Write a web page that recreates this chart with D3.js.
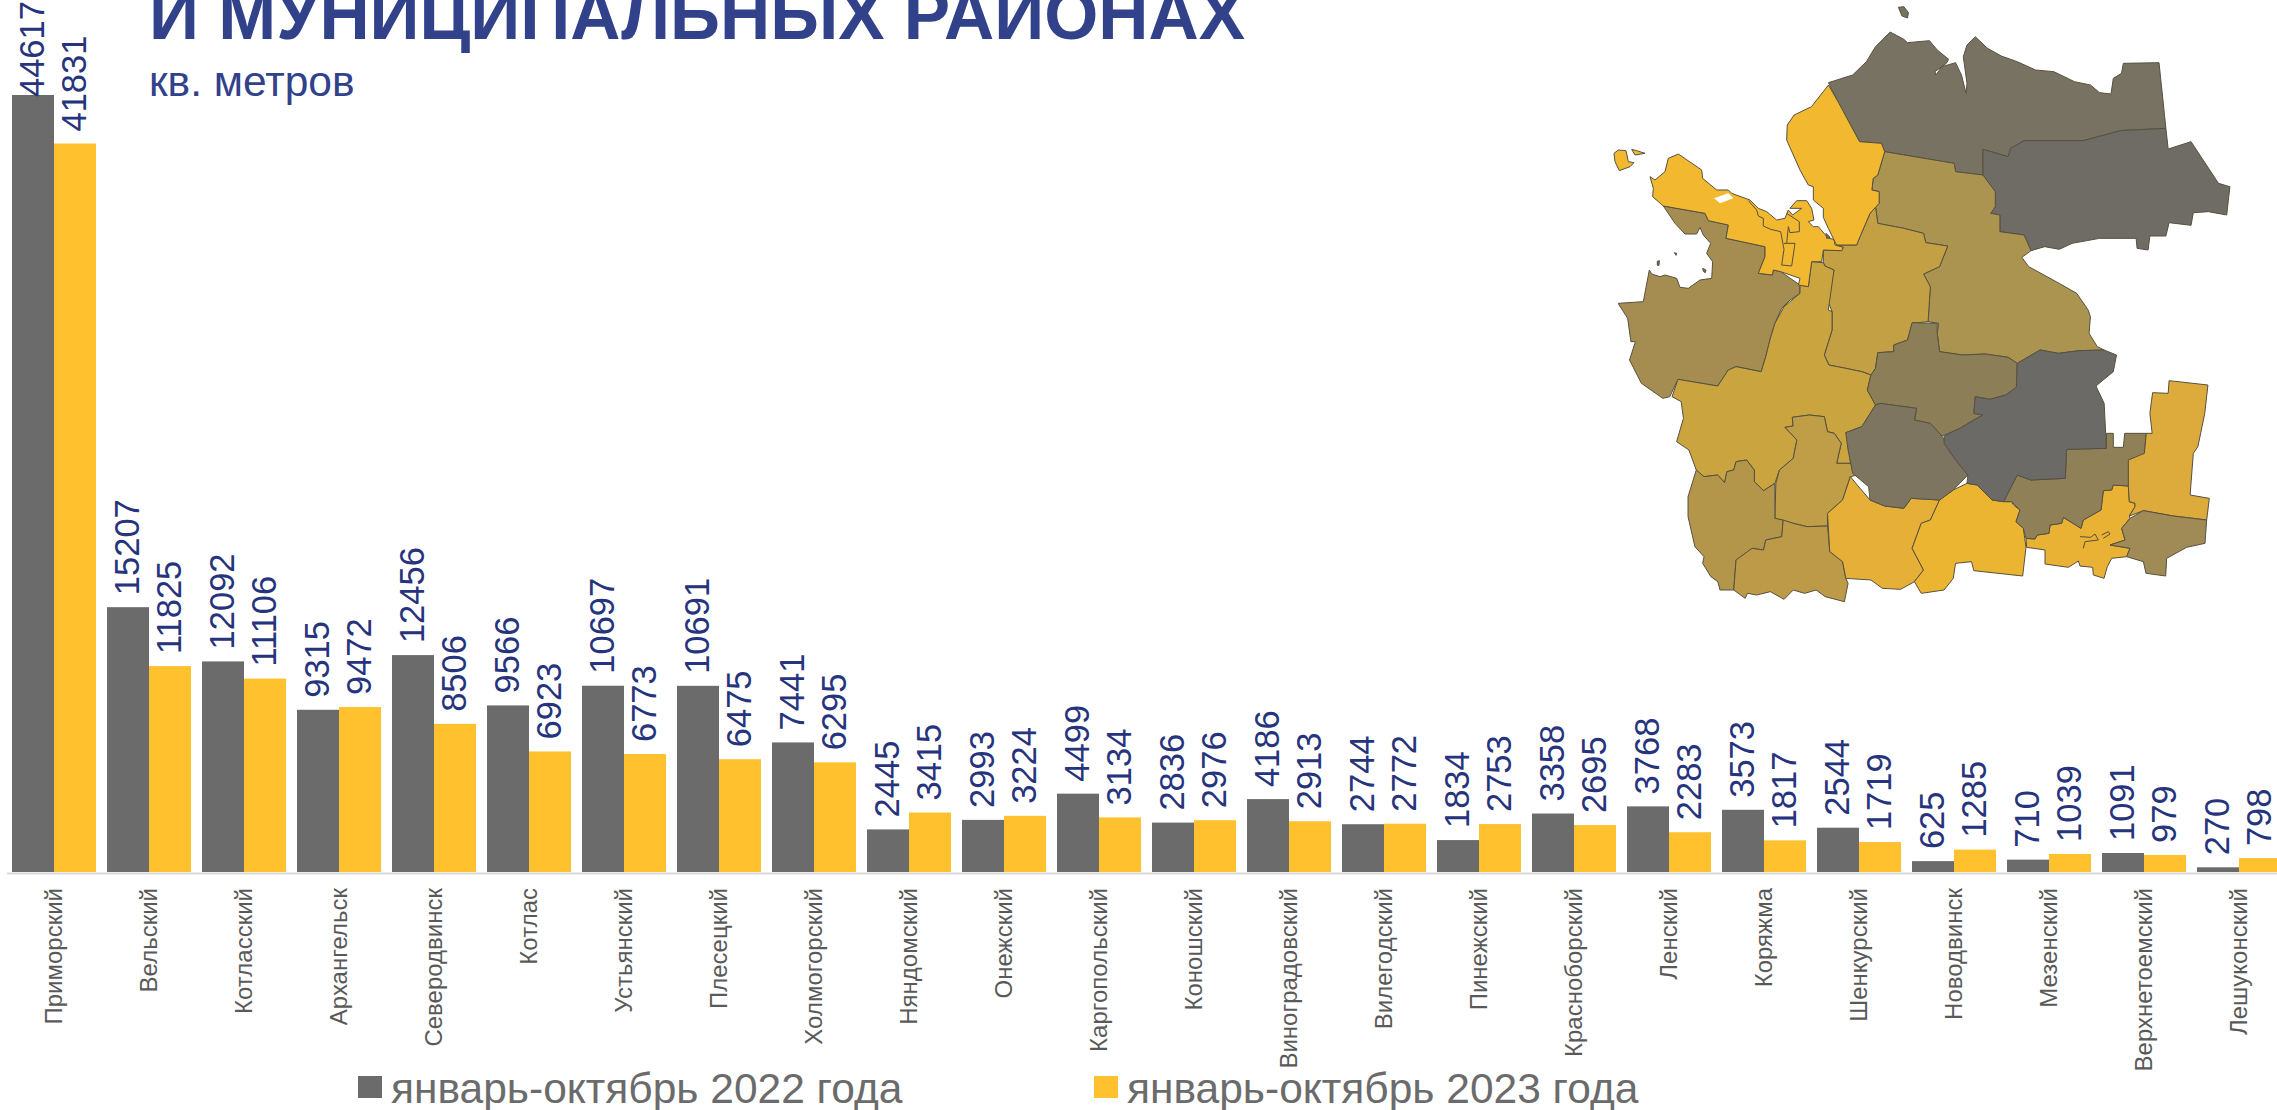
<!DOCTYPE html>
<html>
<head>
<meta charset="utf-8">
<script src="https://cdnjs.cloudflare.com/ajax/libs/d3/7.8.5/d3.min.js"></script>
<style>
  html, body { margin: 0; padding: 0; background: #fff; overflow: hidden; }
  text { font-family: "Liberation Sans", Arial, sans-serif; }
</style>
</head>
<body>
<div id="chart"></div>
<script>
// Chart values
const districts = ['Приморский', 'Вельский', 'Котласский', 'Архангельск', 'Северодвинск', 'Котлас', 'Устьянский', 'Плесецкий', 'Холмогорский', 'Няндомский', 'Онежский', 'Каргопольский', 'Коношский', 'Виноградовский', 'Вилегодский', 'Пинежский', 'Красноборский', 'Ленский', 'Коряжма', 'Шенкурский', 'Новодвинск', 'Мезенский', 'Верхнетоемский', 'Лешуконский']
const values2022 = [44617, 15207, 12092, 9315, 12456, 9566, 10697, 10691, 7441, 2445, 2993, 4499, 2836, 4186, 2744, 1834, 3358, 3768, 3573, 2544, 625, 710, 1091, 270]
const values2023 = [41831, 11825, 11106, 9472, 8506, 6923, 6773, 6475, 6295, 3415, 3224, 3134, 2976, 2913, 2772, 2753, 2695, 2283, 1817, 1719, 1285, 1039, 979, 798]
const seriesNames = ['январь-октябрь 2022 года', 'январь-октябрь 2023 года']
const seriesColors = ['#6b6b6b', '#ffc12d']

// Map outlines. Each helper turns one crop's
// numbers into the common map units used by mapX / mapY
const north = pts => pts
const south = pts => pts.map(([x, y]) => [x, y + 900])
const nw = pts => pts.map(([x, y]) => [(50 + x / 3) * 1568 / 717, (130 + y / 3) * 3])
const se = pts => pts.map(([x, y]) => [(440 + x / 3) * 1568 / 717, (460 + y / 3) * 3])

const mezen = north([[587,248],[640,225],[670,185],[690,140],[722,96],[752,118],[760,128],[808,122],[825,150],[850,178],[845,190],[820,215],[822,225],[835,200],[865,188],[878,225],[888,280],[890,250],[882,170],[890,135],[908,110],[935,145],[965,168],[1000,185],[1040,210],[1080,215],[1125,245],[1160,255],[1180,278],[1205,282],[1210,235],[1228,220],[1232,190],[1310,188],[1325,385],[1225,392],[1145,422],[1015,422],[985,455],[980,470],[925,448],[925,525],[865,515],[862,490],[710,455],[703,430],[655,425],[610,310]])
const leshukonsky = north([[925,448],[980,470],[985,445],[1015,422],[1145,422],[1225,392],[1325,385],[1330,447],[1380,425],[1440,550],[1465,560],[1458,645],[1418,635],[1385,638],[1380,676],[1332,668],[1325,708],[1290,708],[1286,750],[1262,745],[1260,715],[1180,715],[1120,730],[1092,748],[1060,740],[1030,752],[1015,705],[962,695],[962,645],[942,640],[952,620],[952,575],[925,530]])
const primorskyEast = north([[587,255],[610,310],[655,425],[703,430],[710,455],[695,525],[685,535],[682,570],[698,575],[698,610]]).concat(nw([[780,250],[750,320],[740,345],[680,345],[672,330],[655,295],[640,262],[640,235],[610,210],[610,170],[595,165],[570,120],[530,30]]), north([[497,375],[512,345],[550,320]]))
const primorskyWest = nw([[160,228],[128,200],[130,175],[120,140],[135,150],[165,125],[175,85],[205,72],[275,120],[278,145],[320,180],[355,180],[365,190],[420,210],[445,235],[470,245],[500,270],[525,265],[535,240],[548,255],[575,235],[540,235],[560,212],[590,212],[605,235],[612,270],[595,275],[610,290],[625,290],[655,325],[672,328],[675,345],[700,352],[695,362],[640,360],[635,395],[605,395],[595,470],[565,465],[570,445],[512,425],[490,420],[487,435],[445,430],[465,380],[465,350],[348,325],[355,285],[295,272],[285,250]])
const solovki = nw([[12,70],[25,60],[48,62],[55,95],[72,98],[60,110],[28,122],[15,95]])
const solovkiSmall = nw([[65,58],[80,62],[105,70],[75,75]])
const severodvinskLine = nw([[415,212],[440,240],[445,258],[460,265],[460,288],[482,298],[512,305],[522,358],[515,405],[545,408],[555,340],[522,340]])
const arkhangelskLine = nw([[530,250],[568,275],[568,305],[540,308],[535,290],[530,340]])
const arcticIsland = north([[740,22],[752,20],[762,38],[760,54],[748,48]])
const onega = nw([[160,228],[285,250],[295,272],[355,285],[348,325],[465,350],[465,380],[445,430],[487,435],[490,420],[512,425],[570,465],[570,490],[540,510],[515,535]]).concat(south([[470,70],[460,115],[450,170],[440,215],[385,200],[368,210],[345,258],[258,238],[240,290],[225,295],[178,250],[152,180],[165,125],[155,125],[148,55],[128,12]]), nw([[25,520],[100,515],[118,420],[125,432],[150,440],[165,435],[200,445],[210,472],[235,475],[270,450],[305,445],[308,395],[290,370],[302,340],[280,315],[270,292],[260,312],[225,312],[195,280]]))
const plesetsk = nw([[570,490],[570,465],[595,470],[605,395],[640,398],[645,408],[672,420],[655,540]]).concat(south([[595,35],[595,90],[578,165],[588,195],[625,205],[660,215],[680,225],[672,270],[690,315],[660,380],[625,398],[640,450],[635,490],[605,490],[615,430],[600,400],[585,395],[578,350],[545,345],[508,352],[510,378],[492,382],[518,420],[510,475],[480,510],[470,550],[445,572],[425,545],[425,510],[408,480],[385,485],[380,510],[365,515],[360,548],[345,525],[315,530],[298,510],[282,450],[255,425],[270,355],[265,305],[245,290],[258,238],[345,258],[368,210],[385,200],[440,215],[450,170],[460,115],[470,70],[490,20]]))
const kholmogorsky = nw([[640,360],[695,362],[700,352],[680,345],[740,345],[750,320],[780,250]]).concat(north([[690,620],[695,670],[752,685],[795,700],[800,728],[848,738],[830,800],[795,822],[810,860],[808,900]]), south([[805,65],[770,70],[760,120],[730,135],[730,155],[695,158],[690,205],[680,225],[660,215],[625,205],[588,195],[578,165],[595,90],[595,35],[585,0]]), nw([[672,420],[645,408],[640,398]]))
const pinega = north([[710,455],[862,490],[865,515],[925,525],[952,575],[952,620],[942,640],[962,645],[962,695],[1015,705],[1030,752],[1010,772],[1025,800],[1085,845],[1130,880],[1155,930]]).concat(south([[1160,50],[1157,100],[1175,140],[1190,150],[1135,152],[1090,160],[1050,150],[1000,190],[980,172],[930,162],[880,165],[830,155],[825,100],[828,70],[805,65]]), north([[808,900],[810,860],[795,822],[830,800],[848,738],[800,728],[795,700],[752,685],[695,670],[690,620],[698,610],[698,575],[682,570],[685,535],[695,525]]))
const vinogradovsky = south([[770,68],[825,70],[825,100],[830,155],[880,165],[930,162],[980,172],[1000,190],[998,262],[975,285],[940,298],[908,290],[905,340],[925,345],[905,360],[875,385],[835,408],[810,370],[775,360],[780,325],[700,310],[690,315],[672,270],[680,225],[690,205],[695,158],[730,155],[730,135],[760,120]])
const verkhnetoemsky = south([[1000,190],[1050,150],[1090,160],[1135,152],[1190,150],[1217,165],[1210,215],[1172,258],[1190,310],[1195,445],[1108,448],[1105,535],[1030,540],[1000,525],[970,605],[945,600],[912,555],[890,550],[892,525],[865,480],[840,430],[840,408],[875,385],[905,360],[925,345],[905,340],[908,290],[940,298],[975,285],[998,262]])
const shenkursky = south([[700,310],[780,325],[775,360],[810,370],[835,408],[860,455],[892,525],[860,570],[830,600],[768,595],[752,625],[710,618],[678,600],[675,560],[640,520],[630,450],[625,398],[660,380],[690,315]])
const ustyansky = south([[890,550],[912,555],[945,600],[970,605]]).concat(se([[35,125],[40,135],[60,150],[48,185],[70,205],[78,262],[68,348]]), south([[905,812],[900,785],[865,790],[860,835],[840,870],[790,880],[775,845],[795,810],[770,745],[790,670],[810,660],[830,600],[860,570]]))
const velsky = south([[635,530],[650,555],[678,600],[710,618],[752,625],[768,595],[830,600],[810,660],[790,670],[770,745],[795,810],[775,845],[745,868],[705,865],[680,840],[625,835],[618,785],[590,755],[585,640],[618,600]])
const nyandoma = south([[508,352],[545,345],[578,350],[585,395],[600,400],[615,430],[605,490],[635,490],[650,525],[635,530],[618,600],[585,640],[585,678],[540,680],[510,670],[470,655],[472,550],[480,510],[510,475],[518,420],[492,382],[510,378]])
const kargopol = south([[298,510],[315,530],[345,525],[360,548],[365,515],[380,510],[385,485],[408,480],[425,510],[425,545],[445,572],[470,550],[470,655],[488,660],[485,710],[450,720],[445,750],[420,745],[385,780],[380,870],[350,870],[345,845],[330,830],[312,790],[315,770],[295,740],[280,650],[280,590]])
const konosha = south([[488,660],[510,670],[540,680],[585,678],[590,755],[618,785],[625,835],[630,850],[622,905],[580,890],[560,870],[535,880],[510,870],[490,898],[460,875],[430,885],[410,880],[405,895],[380,870],[385,780],[420,745],[445,750],[450,720],[485,710]])
const krasnoborsky = south([[1000,525],[1030,540],[1105,535],[1108,448],[1195,445],[1195,400],[1210,400],[1210,442],[1232,442],[1235,400],[1282,400],[1278,460],[1245,490]]).concat(se([[385,78],[340,75],[335,90],[310,92],[303,150],[250,180],[243,205],[190,172],[185,190],[150,195],[147,220],[112,225],[105,237],[78,235],[70,205],[48,185],[60,150],[35,125]]), south([[970,605]]))
const kotlasArea = se([[385,78],[340,75],[335,90],[310,92],[303,150],[250,180],[243,205],[190,172],[185,190],[150,195],[147,220],[112,225],[105,237],[78,235],[80,262],[135,270],[135,312],[205,322],[235,303],[240,318],[278,322],[280,345],[312,355],[322,320],[335,295],[380,290],[390,265],[330,255],[375,240],[365,205],[390,175],[388,168],[405,140],[405,130],[388,125]])
const kotlasLakeA = se([[240,230],[272,232],[285,222],[295,240],[255,245],[250,265]])
const kotlasLakeB = se([[305,225],[325,215],[330,222],[310,235]])
const lensky = south([[1332,242],[1417,255],[1410,340],[1395,440],[1385,460],[1378,585],[1420,595]]).concat(se([[620,180],[520,168],[430,152],[388,168],[405,140],[405,130],[388,125],[385,78],[385,0]]), south([[1278,460],[1282,400],[1295,400],[1290,340],[1296,278],[1330,280]]))
const vilegodsky = se([[430,152],[520,168],[620,180],[615,250],[560,262],[500,295],[497,348],[438,340],[430,305],[380,290],[390,265],[330,255],[375,240],[365,205],[390,175]])
// water on top of the land, tiny islets in the bay
const lakePrimorsky = nw([[312,205],[355,190],[370,205],[330,220]])
const bayIsletA = nw([[142,394],[148,392],[147,406],[142,406]])
const bayIsletB = nw([[278,415],[288,420],[286,428],[280,424]])
const bayIsletC = nw([[193,368],[200,370],[198,376]])
const deltaIslet = nw([[648,310],[660,322],[650,325]])

const mapShapes = [
  { pts: arcticIsland, fill: '#787262' },
  { pts: mezen, fill: '#787262' },
  { pts: leshukonsky, fill: '#6e6c64' },
  { pts: pinega, fill: '#ab9350' },
  { pts: onega, fill: '#a58d52' },
  { pts: kholmogorsky, fill: '#c4a045' },
  { pts: plesetsk, fill: '#c9a43f' },
  { pts: nyandoma, fill: '#c09d47' },
  { pts: kargopol, fill: '#b3964a' },
  { pts: konosha, fill: '#bc9a48' },
  { pts: velsky, fill: '#e6b038' },
  { pts: ustyansky, fill: '#ecb531' },
  { pts: kotlasArea, fill: '#e9b235' },
  { pts: krasnoborsky, fill: '#8f8058' },
  { pts: vinogradovsky, fill: '#8c7f58' },
  { pts: shenkursky, fill: '#7d7560' },
  { pts: verkhnetoemsky, fill: '#6b6a66' },
  { pts: lensky, fill: '#dcab3c' },
  { pts: vilegodsky, fill: '#a08a55' },
  { pts: solovki, fill: '#f2b930' },
  { pts: solovkiSmall, fill: '#f2b930' },
  { pts: primorskyWest, fill: '#f2b930' },
  { pts: primorskyEast, fill: '#f2b930' },
  { pts: lakePrimorsky, fill: '#fff' },
  { pts: bayIsletA, fill: '#6e6c64' },
  { pts: bayIsletB, fill: '#6e6c64' },
  { pts: bayIsletC, fill: '#6e6c64' },
  { pts: deltaIslet, fill: '#6e6c64' }
]
const mapLines = [severodvinskLine, arkhangelskLine, kotlasLakeA, kotlasLakeB]

const width = 2277
const height = 1110

const svg = d3.select('#chart')
  .append('svg')
  .attr('width', width)
  .attr('height', height)
  .style('display', 'block')

// Scales
const xScale = d3.scaleBand()
  .domain(districts)
  .range([6.5, 2286.5])
  .paddingInner(0.116)
  .paddingOuter(0.058)

const xInner = d3.scaleBand()
  .domain([0, 1])
  .range([0, xScale.bandwidth()])

const yScale = d3.scaleLinear()
  .domain([0, 44617])
  .range([872, 95])

// Title is cut by the top edge, same as in the slide
svg.append('text')
  .text('И МУНИЦИПАЛЬНЫХ РАЙОНАХ')
  .attr('x', 149)
  .attr('y', 39)
  .attr('font-size', 69.5)
  .attr('font-weight', 'bold')
  .attr('fill', '#31418a')

svg.append('text')
  .text('кв. метров')
  .attr('x', 149)
  .attr('y', 96)
  .attr('font-size', 42.5)
  .attr('fill', '#31418a')

// Map
const mapX = d3.scaleLinear().domain([0, 1568]).range([1560, 2277])
const mapY = d3.scaleLinear().domain([0, 930]).range([0, 310])
const mapLine = d3.line().x(d => mapX(d[0])).y(d => mapY(d[1]))

const mapG = svg.append('g')
  .attr('id', 'map')
  .style('filter', 'blur(0.4px)')

mapG.selectAll('path.region')
  .data(mapShapes)
  .enter()
  .append('path')
  .attr('class', 'region')
  .attr('d', d => mapLine(d.pts) + 'Z')
  .attr('fill', d => d.fill)
  .attr('stroke', d => d.fill === '#fff' ? 'none' : '#55503f')
  .attr('stroke-width', 1)
  .attr('stroke-linejoin', 'round')

mapG.selectAll('path.inner')
  .data(mapLines)
  .enter()
  .append('path')
  .attr('class', 'inner')
  .attr('d', d => mapLine(d))
  .attr('fill', 'none')
  .attr('stroke', '#55503f')
  .attr('stroke-width', 1)

// Axis
const xAxis = d3.axisBottom(xScale).tickSize(0).tickPadding(0)

const axisG = svg.append('g')
  .attr('transform', `translate(0, 873)`)
  .call(xAxis)

axisG.select('.domain').attr('stroke', '#d9d9d9').attr('stroke-width', 2)

axisG.selectAll('text')
  .attr('transform', 'rotate(-90)')
  .attr('x', -15)
  .attr('y', 0)
  .attr('dy', '0.35em')
  .attr('text-anchor', 'end')
  .attr('font-size', 24)
  .attr('font-family', '"Liberation Sans", Arial, sans-serif')
  .attr('fill', '#595959')

// Bars and value labels
const seriesValues = [values2022, values2023]

seriesValues.forEach((values, s) => {
  const rows = districts.map((name, i) => ({ name: name, value: values[i] }))

  svg.append('g')
    .selectAll('rect')
    .data(rows)
    .enter()
    .append('rect')
    .attr('x', d => xScale(d.name) + xInner(s))
    .attr('y', d => yScale(d.value))
    .attr('width', xInner.bandwidth())
    .attr('height', d => yScale(0) - yScale(d.value))
    .attr('fill', seriesColors[s])

  svg.append('g')
    .selectAll('text')
    .data(rows)
    .enter()
    .append('text')
    .text(d => d.value)
    .attr('transform', d => {
      const cx = xScale(d.name) + xInner(s) + xInner.bandwidth() / 2
      // the tallest label was pushed down onto its bar to stay on the slide
      const top = Math.max(yScale(d.value) - 12, 97)
      return `translate(${cx - 1}, ${top}) rotate(-90)`
    })
    .attr('dy', '0.35em')
    .attr('font-size', 34.5)
    .attr('fill', '#26337d')
})

// Legend
const legendX = d3.scaleOrdinal().domain(seriesNames).range([358, 1094])

const legend = svg.append('g')
  .selectAll('g')
  .data(seriesNames)
  .enter()
  .append('g')
  .attr('transform', d => `translate(${legendX(d)}, 0)`)

legend.append('rect')
  .attr('y', 1076)
  .attr('width', 24)
  .attr('height', 22)
  .attr('fill', (d, i) => seriesColors[i])

legend.append('text')
  .text(d => d)
  .attr('x', 33)
  .attr('y', 1103)
  .attr('font-size', 42.5)
  .attr('fill', '#6b6b6b')
</script>
</body>
</html>
